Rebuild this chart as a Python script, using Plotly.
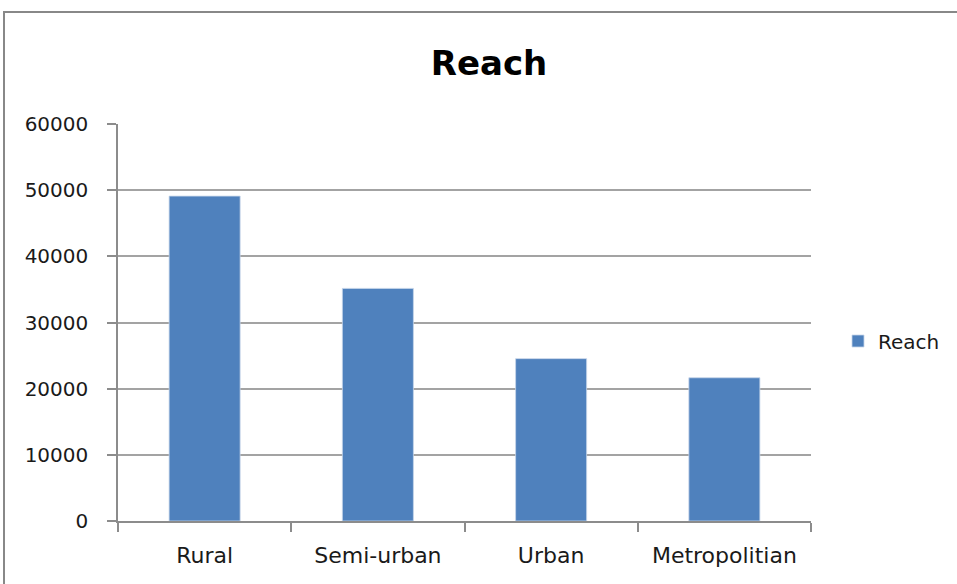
import plotly.graph_objects as go

# Reach by area type
categories = ["Rural", "Semi-urban", "Urban", "Metropolitian"]
reach = [49100, 35150, 24540, 21650]
y_ticks = [0, 10000, 20000, 30000, 40000, 50000, 60000]

W, H = 957, 584
L, R, T, B = 118, 146, 124, 63
pw, ph = W - L - R, H - T - B

font_family = "'DejaVu Sans', sans-serif"
grid_col = "#a3a3a3"
axis_col = "#8c8c8c"

fig = go.Figure(
    go.Bar(
        x=categories,
        y=reach,
        name="Reach",
        marker=dict(color="#4F81BD", line=dict(color="#c6d5ea", width=0.8)),
        showlegend=True,
    )
)

fig.update_layout(
    width=W,
    height=H,
    margin=dict(l=L, r=R, t=T, b=B, pad=0),
    paper_bgcolor="white",
    plot_bgcolor="white",
    bargap=0.59,
    font=dict(family=font_family, size=20, color="#1a1a1a"),
    title=dict(
        text="<b>Reach</b>",
        font=dict(family=font_family, size=34, color="black"),
        x=0.511,
        xanchor="center",
        y=1 - 63 / H,
        yanchor="middle",
        yref="container",
    ),
    legend=dict(
        x=1 + (838 - L - pw) / pw,
        xanchor="left",
        y=(H - B - 341) / ph,
        yanchor="middle",
        font=dict(size=20),
        itemwidth=30,
        bgcolor="rgba(0,0,0,0)",
    ),
    xaxis=dict(
        type="category",
        showline=True,
        linecolor=axis_col,
        linewidth=1.5,
        ticks="outside",
        tickson="boundaries",
        ticklen=9,
        tickcolor=axis_col,
        tickwidth=1.5,
        ticklabelstandoff=14,
        showgrid=False,
        tickfont=dict(size=22),
    ),
    yaxis=dict(
        range=[0, 60000],
        tickvals=y_ticks,
        ticktext=[str(v) for v in y_ticks],
        showline=True,
        linecolor=axis_col,
        linewidth=1.5,
        ticks="outside",
        ticklen=9,
        tickcolor=axis_col,
        tickwidth=1.5,
        ticklabelstandoff=15,
        showgrid=True,
        gridcolor=grid_col,
        gridwidth=1.5,
        zeroline=False,
        tickfont=dict(size=20),
    ),
    shapes=[
        # outer chart frame
        dict(
            type="rect",
            xref="paper",
            yref="paper",
            x0=(4 - L) / pw,
            x1=(W + 20 - L) / pw,
            y0=-(B + 20) / ph,
            y1=1 + (T - 12) / ph,
            line=dict(color="#888888", width=2),
            layer="below",
        )
    ],
)

fig.write_html("out.html")
